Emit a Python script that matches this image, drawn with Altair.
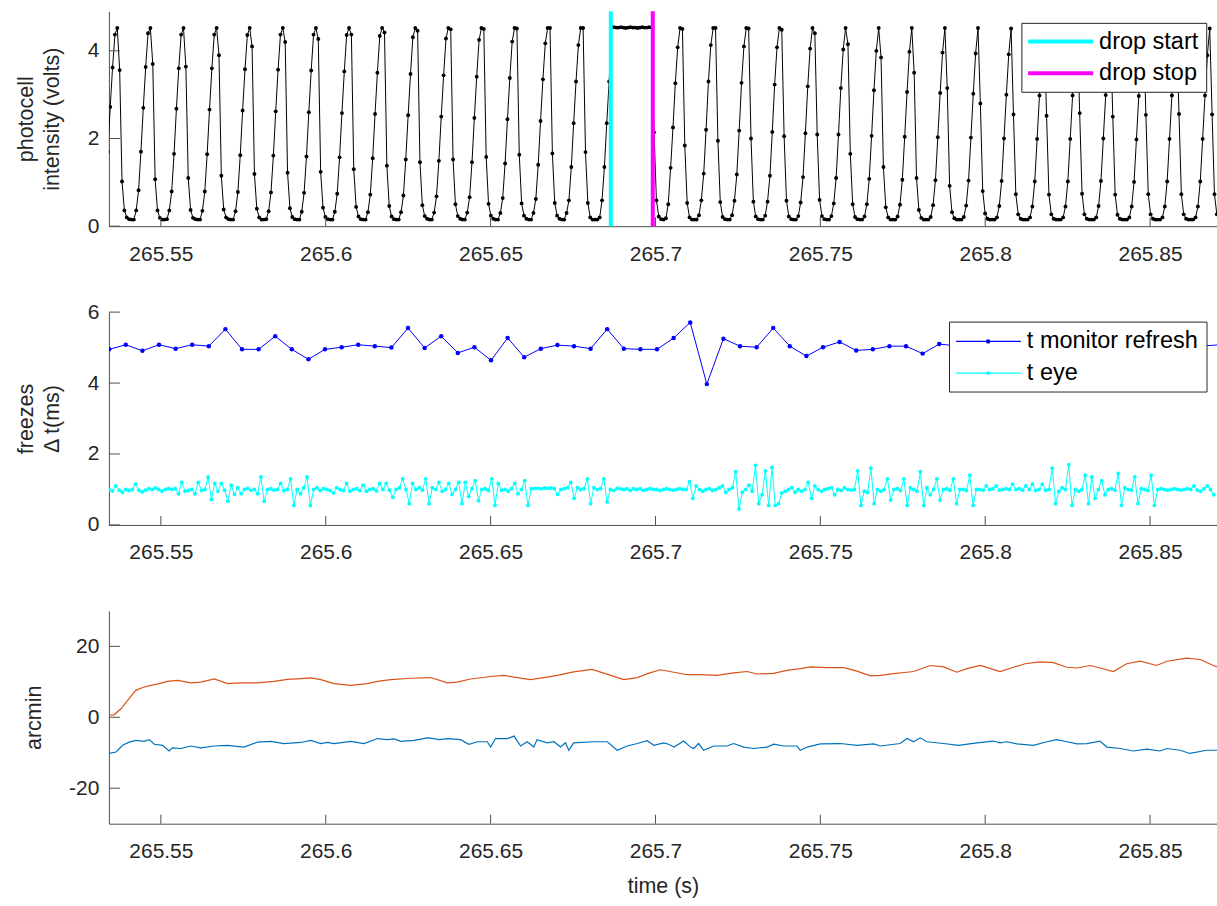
import altair as alt
import pandas as pd

FONT = "Liberation Sans"
INK = "#262626"
RULE = "#4d4d4d"

# ---------------- shared time axis ----------------
T_LEFT, T_RIGHT = 265.534242, 265.8703
TIME_TICKS = [265.55, 265.60, 265.65, 265.70, 265.75, 265.80, 265.85]

# ---------------- panel 1: photocell trace ----------------
PHOTO_T0 = 265.533918      # first photocell sample (s)
PHOTO_DT = 0.00071712      # photocell sampling interval (s)

photo_lead = [1.70, 2.72, 3.62, 4.37]
photo_cycles_before = [
    [4.52, 3.56, 1.02, 0.36, 0.20, 0.16, 0.15, 0.15, 0.36, 0.82, 1.70, 2.70, 3.63, 4.40],
    [4.52, 3.70, 1.07, 0.36, 0.19, 0.15, 0.15, 0.16, 0.36, 0.79, 1.65, 2.68, 3.60, 4.37],
    [4.52, 3.64, 1.10, 0.37, 0.19, 0.16, 0.15, 0.15, 0.35, 0.79, 1.64, 2.66, 3.60, 4.37],
    [4.52, 3.90, 1.15, 0.38, 0.20, 0.16, 0.15, 0.15, 0.34, 0.78, 1.62, 2.64, 3.58, 4.36],
    [4.52, 4.10, 1.19, 0.40, 0.20, 0.15, 0.15, 0.16, 0.34, 0.77, 1.61, 2.62, 3.57, 4.37],
    [4.52, 4.20, 1.22, 0.41, 0.21, 0.16, 0.15, 0.15, 0.33, 0.76, 1.59, 2.60, 3.55, 4.37],
    [4.52, 4.27, 1.24, 0.42, 0.21, 0.16, 0.15, 0.15, 0.33, 0.74, 1.57, 2.58, 3.53, 4.36],
    [4.52, 4.37, 1.30, 0.44, 0.22, 0.16, 0.15, 0.15, 0.32, 0.72, 1.55, 2.56, 3.50, 4.34],
    [4.52, 4.42, 1.38, 0.46, 0.22, 0.16, 0.15, 0.15, 0.32, 0.70, 1.52, 2.53, 3.47, 4.31],
    [4.52, 4.46, 1.46, 0.48, 0.23, 0.17, 0.15, 0.15, 0.31, 0.68, 1.49, 2.50, 3.44, 4.28],
    [4.52, 4.49, 1.52, 0.50, 0.23, 0.17, 0.15, 0.15, 0.31, 0.66, 1.46, 2.47, 3.41, 4.25],
    [4.52, 4.50, 1.58, 0.51, 0.24, 0.17, 0.15, 0.15, 0.30, 0.64, 1.43, 2.44, 3.38, 4.21],
    [4.52, 4.51, 1.63, 0.52, 0.24, 0.17, 0.15, 0.15, 0.30, 0.62, 1.40, 2.40, 3.35, 4.17],
    [4.52, 4.52, 1.66, 0.53, 0.24, 0.17, 0.15, 0.15, 0.30, 0.59, 1.35, 2.35, 3.30, 4.13],
]
photo_cycle_cut = [4.52, 4.52, 1.69, 0.53, 0.20, 0.15, 0.15, 0.15, 0.20, 0.59, 1.35, 2.35, 3.30]
photo_drop = [4.53, 4.54, 4.53, 4.53, 4.54, 4.53, 4.52, 4.53, 4.54,
              4.53, 4.53, 4.52, 4.53, 4.54, 4.53, 4.53, 4.54, 4.53]
photo_recover = [2.14, 0.59, 0.22, 0.16, 0.15, 0.18, 0.50, 1.33, 2.25, 3.26, 4.08]
photo_cycles_after = [
    [4.52, 4.50, 1.84, 0.53, 0.20, 0.15, 0.15, 0.15, 0.25, 0.59, 1.20, 2.20, 3.30, 4.13],
    [4.52, 4.52, 1.95, 0.55, 0.21, 0.16, 0.15, 0.15, 0.25, 0.58, 1.18, 2.18, 3.27, 4.10],
    [4.52, 4.51, 2.00, 0.56, 0.22, 0.16, 0.15, 0.15, 0.24, 0.56, 1.15, 2.15, 3.23, 4.08],
    [4.52, 4.48, 2.05, 0.58, 0.22, 0.16, 0.15, 0.15, 0.23, 0.54, 1.12, 2.12, 3.19, 4.05],
    [4.52, 4.40, 2.09, 0.60, 0.23, 0.16, 0.15, 0.15, 0.23, 0.52, 1.10, 2.09, 3.15, 4.03],
    [4.52, 4.15, 1.65, 0.50, 0.21, 0.16, 0.15, 0.15, 0.22, 0.50, 1.08, 2.06, 3.10, 4.00],
    [4.52, 3.85, 1.35, 0.43, 0.20, 0.15, 0.15, 0.15, 0.22, 0.49, 1.06, 2.04, 3.06, 3.98],
    [4.52, 3.50, 1.10, 0.37, 0.19, 0.15, 0.15, 0.15, 0.21, 0.48, 1.05, 2.03, 3.04, 3.96],
    [4.52, 3.15, 0.92, 0.32, 0.18, 0.15, 0.15, 0.15, 0.21, 0.47, 1.04, 2.02, 3.02, 3.94],
    [4.52, 2.80, 0.80, 0.29, 0.17, 0.15, 0.15, 0.15, 0.20, 0.46, 1.03, 2.00, 3.00, 3.92],
    [4.51, 2.55, 0.73, 0.27, 0.17, 0.15, 0.15, 0.15, 0.20, 0.45, 1.02, 1.99, 2.98, 3.90],
    [4.51, 2.52, 0.72, 0.27, 0.17, 0.15, 0.15, 0.15, 0.20, 0.45, 1.02, 1.99, 2.98, 3.90],
    [4.51, 2.58, 0.74, 0.27, 0.17, 0.15, 0.15, 0.15, 0.20, 0.46, 1.03, 2.00, 2.99, 3.91],
    [4.51, 2.50, 0.72, 0.26, 0.17, 0.15, 0.15, 0.15, 0.20, 0.45, 1.01, 1.98, 2.97, 3.89],
    [4.51, 2.54, 0.73, 0.27, 0.17, 0.15, 0.15, 0.15, 0.20, 0.45, 1.02, 1.99, 2.98, 3.90],
    [4.51, 2.56, 0.73, 0.27, 0.17, 0.15, 0.15, 0.15, 0.20, 0.45, 1.02, 1.99, 2.98, 3.90],
]
photo_tail = [4.51, 2.55, 0.73, 0.27]

DROP_START = 265.68645
DROP_STOP = 265.69918
drop_labels = ["drop start", "drop stop"]

# ---------------- panel 2: frame intervals ----------------
MON_T0 = 265.534333
MON_DT = 0.0050345
monitor_dt = [
    4.95, 5.08, 4.91, 5.08, 4.97, 5.08, 5.04, 5.52, 4.95, 4.95,
    5.32, 4.95, 4.67, 4.95, 5.01, 5.08, 5.04, 5.00, 5.55, 4.99,
    5.32, 4.85, 5.01, 4.64, 5.27, 4.73, 4.97, 5.07, 5.04, 4.97,
    5.52, 4.97, 4.95, 4.95, 5.27, 5.71, 3.97, 5.25, 5.04, 5.01,
    5.55, 5.04, 4.76, 5.01, 5.16, 4.92, 4.95, 5.04, 5.04, 4.83,
    5.10, 5.05, 4.92, 5.10, 5.00, 4.95, 5.18, 4.88, 5.00, 5.05,
    4.95, 5.10, 4.90, 5.00, 5.04, 4.96, 5.05, 5.08,
]

EYE_T0 = 265.534333
EYE_DT = 0.001
eye_dt = [
    1.00, 0.96, 1.10, 0.98, 0.92, 1.00, 0.97, 1.00, 1.15, 0.98,
    0.93, 0.98, 1.02, 1.00, 1.04, 1.00, 0.95, 1.00, 1.03, 1.00,
    1.02, 0.88, 1.20, 0.95, 0.97, 1.00, 0.88, 1.20, 0.97, 1.00,
    1.35, 0.72, 1.17, 0.95, 1.17, 0.98, 0.67, 1.12, 0.86, 1.05,
    0.88, 1.00, 1.03, 0.98, 1.00, 0.88, 1.35, 0.67, 1.00, 1.02,
    0.98, 1.00, 1.17, 0.97, 1.00, 1.30, 0.55, 1.00, 0.88, 1.05,
    1.35, 0.55, 1.00, 1.05, 0.97, 1.02, 1.00, 0.97, 0.90, 1.05,
    1.00, 0.97, 1.17, 0.95, 1.00, 1.02, 0.97, 1.12, 0.95, 1.00,
    1.02, 0.96, 1.17, 1.00, 1.17, 0.98, 0.78, 1.00, 1.05, 1.30,
    1.00, 0.60, 1.17, 1.00, 1.05, 0.98, 1.30, 0.60, 1.05, 1.00,
    1.20, 0.95, 1.00, 1.17, 0.86, 1.00, 1.20, 0.60, 1.20, 0.80,
    1.02, 1.25, 0.68, 1.00, 1.02, 0.97, 1.30, 0.55, 1.17, 0.98,
    1.00, 0.95, 1.02, 1.17, 0.88, 1.00, 1.25, 0.55, 1.02, 1.03,
    1.03, 1.02, 1.04, 1.03, 1.04, 1.02, 0.86, 1.00, 1.02, 1.05,
    1.20, 0.75, 1.05, 1.00, 1.02, 1.30, 0.60, 1.05, 1.00, 1.02,
    1.30, 0.65, 1.00, 0.97, 1.03, 1.02, 1.00, 1.02, 0.97, 1.02,
    1.00, 1.02, 0.98, 1.00, 1.02, 1.00, 1.00, 0.97, 1.00, 1.02,
    1.00, 0.98, 1.00, 1.02, 1.00, 1.00, 1.22, 0.75, 1.10, 1.00,
    0.95, 1.00, 1.02, 0.97, 1.00, 1.05, 1.10, 0.92, 1.00, 1.05,
    1.50, 0.45, 0.92, 1.00, 1.12, 0.95, 1.68, 0.60, 0.85, 1.52,
    0.55, 1.62, 0.55, 0.60, 0.90, 0.95, 1.00, 1.05, 0.92, 1.00,
    0.95, 1.00, 1.20, 0.75, 1.10, 1.00, 0.95, 1.00, 1.02, 1.05,
    0.85, 1.00, 0.97, 1.05, 1.00, 0.98, 1.00, 1.52, 0.55, 0.95,
    0.92, 1.60, 0.60, 1.00, 0.95, 1.00, 1.30, 0.70, 1.00, 1.02,
    0.97, 1.30, 0.55, 1.05, 1.00, 0.95, 1.50, 0.55, 1.05, 0.85,
    1.00, 1.30, 0.70, 1.00, 1.02, 0.98, 1.30, 0.60, 1.00, 1.00,
    0.97, 1.40, 0.55, 1.00, 1.00, 0.98, 1.10, 1.00, 1.02, 1.10,
    0.98, 1.00, 1.02, 1.00, 1.15, 1.00, 1.02, 0.98, 1.10, 1.00,
    1.15, 0.97, 1.00, 1.15, 0.98, 1.00, 1.60, 0.60, 0.95, 1.05,
    1.00, 1.70, 0.55, 1.00, 0.95, 1.00, 1.40, 0.60, 1.35, 0.75,
    1.00, 1.25, 0.85, 1.00, 1.02, 0.98, 1.45, 0.55, 1.05, 1.00,
    0.98, 1.35, 0.60, 1.02, 1.00, 0.97, 1.40, 0.55, 1.00, 1.02,
    1.00, 0.98, 1.00, 1.02, 1.00, 0.98, 1.00, 1.02, 1.00, 1.10,
    0.98, 0.95, 1.02, 1.10, 1.00, 0.85,
]
interval_labels = ["t monitor refresh", "t eye"]

# ---------------- panel 3: eye position (ms after 265.5 s) ----------------
EYE_POS_BASE = 265.5
horiz_ms = [
    34.3, 35.8, 37.9, 40.4, 42.4, 44.5, 47.0, 49.5, 52.0, 55.1,
    59.1, 62.1, 66.2, 70.2, 74.2, 79.3, 84.3, 88.4, 92.4, 95.5,
    98.5, 102.5, 107.6, 112.6, 115.7, 119.7, 125.8, 131.8, 136.9, 139.9,
    143.9, 150.0, 154.0, 158.1, 162.1, 166.1, 170.2, 175.2, 180.8, 186.4,
    190.4, 194.5, 198.5, 201.5, 205.6, 209.6, 213.6, 218.7, 223.7, 227.8,
    230.8, 235.8, 239.9, 243.9, 247.0, 252.0, 257.1, 261.1, 265.2, 268.2,
    272.2, 276.3, 278.3, 283.3, 287.4, 291.4, 294.5, 298.5, 304.5, 308.6,
    312.1, 316.7, 320.7, 324.7, 327.8, 331.8, 334.8, 338.9, 342.9, 347.0,
    352.0, 355.1, 361.1, 365.2, 369.2, 370.3,
]
horiz_arcmin = [
    0.6, 0.7, 2.4, 5.3, 7.6, 8.4, 9.0, 9.5, 10.1, 10.4,
    9.7, 9.9, 10.8, 9.5, 9.7, 9.7, 10.1, 10.7, 10.9, 11.1,
    10.6, 9.5, 9.0, 9.5, 10.1, 10.6, 11.0, 11.2, 9.7, 9.9,
    10.8, 11.5, 11.8, 11.2, 10.6, 11.2, 11.8, 12.8, 13.5, 11.8,
    10.6, 11.2, 12.6, 13.4, 12.7, 12.0, 12.0, 11.8, 12.5, 12.9,
    12.2, 12.4, 13.2, 13.7, 14.2, 14.0, 14.0, 13.0, 11.7, 11.8,
    12.3, 12.7, 12.9, 14.6, 14.2, 12.7, 13.7, 14.6, 12.9, 14.1,
    15.1, 15.6, 15.4, 14.1, 13.9, 14.6, 13.9, 12.9, 15.1, 15.8,
    14.6, 15.8, 16.7, 16.3, 14.6, 14.2,
]
vert_ms = [
    34.3, 36.4, 38.4, 40.4, 42.4, 44.9, 46.5, 48.0, 50.5, 52.5,
    53.5, 56.1, 59.1, 62.1, 66.2, 70.2, 75.2, 79.3, 83.3, 87.4,
    92.4, 95.5, 98.5, 100.5, 102.5, 107.6, 111.6, 115.7, 118.7, 120.7,
    122.7, 126.8, 130.8, 132.8, 134.3, 136.9, 140.9, 143.4, 146.0, 149.0,
    150.0, 151.5, 155.1, 157.1, 159.1, 161.1, 163.1, 164.1, 167.2, 169.2,
    171.2, 172.7, 173.7, 175.2, 181.3, 185.4, 188.4, 191.4, 194.5, 197.5,
    199.5, 202.5, 204.0, 205.6, 208.6, 210.6, 211.6, 213.1, 214.6, 217.7,
    221.7, 223.7, 226.8, 229.8, 233.8, 235.9, 238.9, 242.9, 243.9, 246.0,
    250.0, 256.1, 261.1, 266.2, 268.2, 274.2, 276.3, 278.3, 280.3, 282.3,
    287.4, 291.9, 297.5, 302.5, 304.5, 306.6, 309.6, 314.6, 318.7, 321.7,
    324.8, 327.8, 330.8, 334.8, 336.9, 340.9, 344.9, 349.0, 353.0, 355.1,
    359.1, 362.1, 367.2, 370.3,
]
vert_arcmin = [
    -10.2, -9.8, -7.9, -7.0, -6.5, -6.8, -6.3, -7.6, -7.9, -9.5,
    -8.6, -8.8, -8.1, -8.6, -8.1, -7.9, -8.4, -7.0, -6.8, -7.4,
    -7.1, -6.5, -7.4, -7.1, -7.4, -6.8, -7.4, -6.0, -6.3, -6.1,
    -6.8, -6.5, -5.8, -6.0, -6.3, -6.0, -6.3, -7.6, -6.9, -6.9,
    -8.4, -6.0, -6.0, -5.3, -8.1, -6.9, -8.4, -6.3, -7.2, -6.9,
    -8.4, -7.2, -9.3, -7.2, -6.9, -6.9, -9.3, -8.1, -7.4, -6.6,
    -7.9, -7.2, -7.6, -8.4, -6.7, -8.4, -8.8, -7.4, -9.3, -8.1,
    -8.1, -7.4, -8.4, -8.8, -8.4, -7.6, -8.1, -8.1, -9.3, -8.4,
    -7.5, -7.4, -7.9, -7.5, -8.1, -7.4, -6.0, -6.9, -5.8, -6.9,
    -7.4, -7.9, -7.2, -6.7, -7.2, -6.9, -7.5, -7.9, -6.9, -6.3,
    -6.9, -7.5, -7.4, -6.7, -8.4, -8.8, -9.5, -9.0, -9.5, -8.8,
    -9.3, -10.2, -9.3, -9.3,
]

# ---------------- build tables ----------------
photo_v = (photo_lead + sum(photo_cycles_before, []) + photo_cycle_cut + photo_drop
           + photo_recover + sum(photo_cycles_after, []) + photo_tail)
photo_df = pd.DataFrame({"t": [PHOTO_T0 + i * PHOTO_DT for i in range(len(photo_v))],
                         "v": photo_v})
mon_df = pd.DataFrame({"t": [MON_T0 + i * MON_DT for i in range(len(monitor_dt))],
                       "v": monitor_dt})
eye_df = pd.DataFrame({"t": [EYE_T0 + i * EYE_DT for i in range(len(eye_dt))],
                       "v": eye_dt})
horiz_df = pd.DataFrame({"t": [EYE_POS_BASE + m / 1000 for m in horiz_ms], "v": horiz_arcmin})
vert_df = pd.DataFrame({"t": [EYE_POS_BASE + m / 1000 for m in vert_ms], "v": vert_arcmin})

W = 1109
H1, H2, H3 = 215, 213, 213
LEGEND_FS = 23.5


def make_x(title=None):
    return alt.X("t:Q", scale=alt.Scale(domain=[T_LEFT, T_RIGHT], nice=False, zero=False),
                 title=title,
                 axis=alt.Axis(values=TIME_TICKS, format=".2~f", labelFlush=False,
                               labelOverlap=False))


def make_y(domain, ticks, title, pad, expr=None):
    ax = dict(values=ticks, title=title, titlePadding=pad, labelOverlap=False,
              labelFlush=False)
    if expr:
        ax["labelExpr"] = expr
    return alt.Y("v:Q", scale=alt.Scale(domain=domain, nice=False, zero=False),
                 axis=alt.Axis(**ax))


def inward_ticks(X, Y, yvals, h):
    """Short tick marks drawn inside the plot along the left and bottom edges."""
    xt = alt.Chart(pd.DataFrame({"t": TIME_TICKS})).mark_rule(
        color=RULE, strokeWidth=1).encode(x=X, y=alt.value(h), y2=alt.value(h - 9))
    yt = alt.Chart(pd.DataFrame({"v": yvals})).mark_rule(
        color=RULE, strokeWidth=1).encode(y=Y, x=alt.value(0), x2=alt.value(11))
    return [xt, yt]


def legend_box(x0, x1, y0, y1):
    return alt.Chart(pd.DataFrame({"k": [0]})).mark_rect(
        fill="white", stroke=INK, strokeWidth=1).encode(
        x=alt.value(x0), x2=alt.value(x1), y=alt.value(y0), y2=alt.value(y1))


def legend_line(x0, x1, y, color, width):
    return alt.Chart(pd.DataFrame({"k": [0]})).mark_rule(
        color=color, strokeWidth=width).encode(
        x=alt.value(x0), x2=alt.value(x1), y=alt.value(y))


def legend_dot(x, y, color, size):
    return alt.Chart(pd.DataFrame({"k": [0]})).mark_circle(
        color=color, size=size, opacity=1).encode(x=alt.value(x), y=alt.value(y))


def legend_text(x, y, label):
    return alt.Chart(pd.DataFrame({"k": [0]})).mark_text(
        text=label, align="left", baseline="middle", font=FONT, fontSize=LEGEND_FS,
        color="black").encode(x=alt.value(x), y=alt.value(y))


# ---------------- panel 1 ----------------
X1 = make_x()
Y1 = make_y([0, 4.9], [0, 2, 4], ["photocell", "intensity (volts)"], 24)
photo_line = alt.Chart(photo_df).mark_line(color="black", strokeWidth=1, clip=True).encode(
    x=X1, y=Y1)
photo_dots = alt.Chart(photo_df).mark_circle(color="black", size=15, opacity=1, clip=True).encode(
    x=X1, y=Y1)
start_rule = alt.Chart(pd.DataFrame({"t": [DROP_START]})).mark_rule(
    color="#00FFFF", strokeWidth=4).encode(x=X1, y=alt.value(0), y2=alt.value(H1))
stop_rule = alt.Chart(pd.DataFrame({"t": [DROP_STOP]})).mark_rule(
    color="#FF00FF", strokeWidth=4).encode(x=X1, y=alt.value(0), y2=alt.value(H1))

panel1 = alt.layer(
    photo_line, photo_dots, start_rule, stop_rule,
    *inward_ticks(X1, Y1, [0, 2, 4], H1),
    legend_box(913.7, 1098.7, 12, 81),
    legend_line(920, 985, 30.2, "#00FFFF", 4),
    legend_line(920, 985, 62, "#FF00FF", 4),
    legend_text(991, 30.2, drop_labels[0]),
    legend_text(991, 62, drop_labels[1]),
).properties(width=W, height=H1)

# ---------------- panel 2 ----------------
X2 = make_x()
Y2 = make_y([0, 6], [0, 2, 4, 6], ["freezes", "\u0394 t(ms)"], 24)
mon_line = alt.Chart(mon_df).mark_line(color="#0000FF", strokeWidth=1, clip=True).encode(
    x=X2, y=Y2)
mon_dots = alt.Chart(mon_df).mark_circle(color="#0000FF", size=20, opacity=1, clip=True).encode(
    x=X2, y=Y2)
eye_line = alt.Chart(eye_df).mark_line(color="#00FFFF", strokeWidth=1, clip=True).encode(
    x=X2, y=Y2)
eye_dots = alt.Chart(eye_df).mark_circle(color="#00FFFF", size=15, opacity=1, clip=True).encode(
    x=X2, y=Y2)

panel2 = alt.layer(
    mon_line, mon_dots, eye_line, eye_dots,
    *inward_ticks(X2, Y2, [0, 2, 4, 6], H2),
    legend_box(841.3, 1099, 10, 80),
    legend_line(847.7, 912.7, 29.3, "#0000FF", 1.2),
    legend_dot(880, 29.3, "#0000FF", 20),
    legend_line(847.7, 912.7, 61, "#00FFFF", 1.2),
    legend_dot(880, 61, "#00FFFF", 15),
    legend_text(918.7, 29.3, interval_labels[0]),
    legend_text(918.7, 61, interval_labels[1]),
).properties(width=W, height=H2)

# ---------------- panel 3 ----------------
X3 = make_x("time (s)")
Y3 = make_y([-30, 30], [-20, 0, 20], "arcmin", 23, "toString(datum.value)")
horiz_line = alt.Chart(horiz_df).mark_line(color="#D95319", strokeWidth=1.2, clip=True).encode(
    x=X3, y=Y3)
vert_line = alt.Chart(vert_df).mark_line(color="#0072BD", strokeWidth=1.2, clip=True).encode(
    x=X3, y=Y3)

panel3 = alt.layer(
    horiz_line, vert_line,
    *inward_ticks(X3, Y3, [-20, 0, 20], H3),
).properties(width=W, height=H3)

chart = alt.vconcat(panel1, panel2, panel3, spacing=86, bounds="flush").properties(
    padding={"left": 15, "top": 9, "right": 0, "bottom": 0},
    background="white",
).configure_view(stroke=None).configure_axis(
    domainColor=RULE, domainWidth=1, labelColor=INK, labelFont=FONT, labelFontSize=21,
    titleFont=FONT, titleFontSize=21.5, titleFontWeight="normal", titleColor=INK,
    ticks=False, tickSize=0, grid=False, titleLineHeight=26,
).configure_axisX(labelPadding=17, titlePadding=14).configure_axisY(labelPadding=10)

chart.save("out.html", embed_options={"renderer": "svg", "actions": False})
